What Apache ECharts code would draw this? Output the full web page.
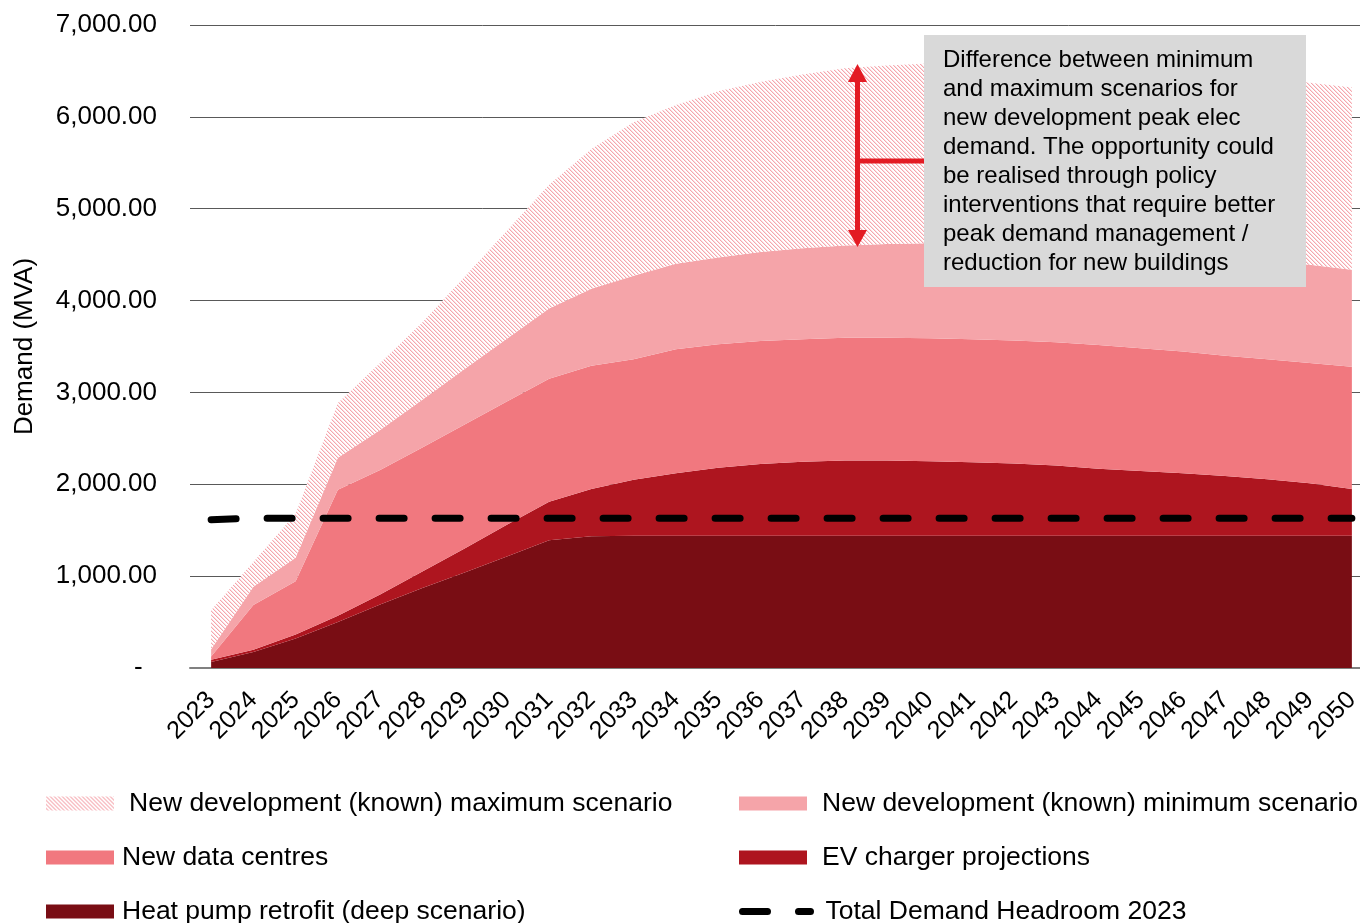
<!DOCTYPE html>
<html>
<head>
<meta charset="utf-8">
<script src="https://cdn.jsdelivr.net/npm/echarts@6/dist/echarts.min.js"></script>
<style>
  html, body { margin: 0; padding: 0; background: #fff; }
  #chart { width: 1360px; height: 923px; }
</style>
</head>
<body>
<div id="chart"></div>
<script>
var years = ["2023", "2024", "2025", "2026", "2027", "2028", "2029", "2030", "2031", "2032",
  "2033", "2034", "2035", "2036", "2037", "2038", "2039", "2040", "2041", "2042",
  "2043", "2044", "2045", "2046", "2047", "2048", "2049", "2050"];

// MVA per layer (stacked)
var heatPump = [65, 175, 320, 500, 690, 870, 1040, 1215, 1390, 1435,
  1440, 1440, 1440, 1440, 1440, 1440, 1440, 1440, 1440, 1440,
  1440, 1440, 1440, 1440, 1440, 1440, 1440, 1440];
var evCharger = [25, 25, 45, 70, 110, 180, 260, 345, 420, 515,
  610, 680, 740, 780, 805, 820, 820, 810, 800, 785,
  765, 730, 705, 680, 650, 615, 570, 510];
var dataCentres = [35, 485, 580, 1370, 1355, 1350, 1350, 1340, 1340, 1340,
  1310, 1350, 1345, 1340, 1335, 1335, 1335, 1340, 1340, 1340,
  1340, 1345, 1335, 1325, 1310, 1305, 1310, 1330];
var newDevMin = [80, 200, 255, 350, 435, 520, 605, 685, 765, 840,
  910, 930, 945, 970, 990, 1005, 1020, 1035, 1040, 1045,
  1050, 1060, 1070, 1075, 1085, 1080, 1070, 1055];
var newDevMaxExtra = [425, 270, 480, 595, 730, 840, 1005, 1175, 1345, 1520,
  1670, 1730, 1810, 1850, 1890, 1930, 1945, 1955, 1965, 1970,
  1975, 1980, 1980, 1980, 1980, 1980, 1980, 1985];
var headroom = [1615, 1630, 1630, 1630, 1630, 1630, 1630, 1630, 1630, 1630,
  1630, 1630, 1630, 1630, 1630, 1630, 1630, 1630, 1630, 1630,
  1630, 1630, 1630, 1630, 1630, 1630, 1630, 1630];

var names = {
  max: "New development (known) maximum scenario",
  min: "New development (known) minimum scenario",
  dc: "New data centres",
  ev: "EV charger projections",
  hp: "Heat pump retrofit (deep scenario)",
  head: "Total Demand Headroom 2023"
};

var note = "Difference between minimum\nand maximum scenarios for\nnew development peak elec\ndemand. The opportunity could\nbe realised through policy\ninterventions that require better\npeak demand management /\nreduction for new buildings";

var FONT = "'Liberation Sans', Arial, sans-serif";

// downward diagonal hatch, like the excel pattern fill
function makeHatch() {
  var c = document.createElement("canvas");
  c.width = 8;
  c.height = 8;
  var ctx = c.getContext("2d");
  ctx.fillStyle = "#ffffff";
  ctx.fillRect(0, 0, 8, 8);
  for (var y = 0; y < 8; y++) {
    for (var x = 0; x < 8; x++) {
      var d = ((x - y) % 4 + 4) % 4;
      if (d === 0) { ctx.fillStyle = "#F5A6AD"; ctx.fillRect(x, y, 1, 1); }
      if (d === 1) { ctx.fillStyle = "#FCDDE0"; ctx.fillRect(x, y, 1, 1); }
    }
  }
  return { image: c, repeat: "repeat" };
}
var hatch = makeHatch();

function area(name, data, color, fill) {
  return {
    name: name,
    type: "line",
    stack: "total",
    data: data,
    symbol: "none",
    color: color,
    lineStyle: { width: 0 },
    areaStyle: { color: fill || color, opacity: 1 },
    emphasis: { disabled: true }
  };
}

function legendItem(name, left, top, pad, extra) {
  var l = {
    data: [name],
    left: left,
    top: top,
    padding: 0,
    itemWidth: 68,
    itemHeight: 14,
    icon: "rect",
    selectedMode: false,
    textStyle: { fontSize: 26.5, fontFamily: FONT, color: "#000", padding: [0, 0, 0, pad] }
  };
  for (var k in extra) l[k] = extra[k];
  return l;
}

var chart = echarts.init(document.getElementById("chart"));

chart.setOption({
  animation: false,
  backgroundColor: "#fff",
  grid: { left: 190, right: -13, top: 25, bottom: 255, outerBoundsMode: "none", containLabel: false },
  xAxis: {
    type: "category",
    data: years,
    boundaryGap: true,
    axisTick: { show: false },
    axisLine: { lineStyle: { color: "#808080", width: 2 } },
    axisLabel: {
      interval: 0,
      rotate: 45,
      margin: 28,
      fontSize: 25,
      fontFamily: FONT,
      color: "#000"
    }
  },
  yAxis: {
    type: "value",
    min: 0,
    max: 7000,
    interval: 1000,
    name: "Demand (MVA)",
    nameLocation: "middle",
    nameRotate: 90,
    nameGap: 152,
    nameTextStyle: { fontSize: 26, fontFamily: FONT, color: "#000" },
    axisLine: { show: false },
    axisTick: { show: false },
    splitLine: { lineStyle: { color: "#595959", width: 1 } },
    axisLabel: {
      margin: 33,
      fontSize: 26,
      fontFamily: FONT,
      color: "#000",
      formatter: function (v) {
        if (v === 0) return "-  ";
        return v.toLocaleString("en-US", { minimumFractionDigits: 2, maximumFractionDigits: 2 });
      }
    }
  },
  legend: [
    legendItem(names.max, 46, 790, 10, { itemStyle: { color: hatch } }),
    legendItem(names.min, 739, 790, 10, {}),
    legendItem(names.dc, 46, 844, 3, {}),
    legendItem(names.ev, 739, 844, 10, {}),
    legendItem(names.hp, 46, 898, 3, {}),
    legendItem(names.head, 739, 898, 10, {
      icon: null,
      itemStyle: { opacity: 0 },
      lineStyle: { color: "#000", width: 7, type: [25, 31], cap: "round", opacity: 1 }
    })
  ],
  series: [
    area(names.hp, heatPump, "#790D14"),
    area(names.ev, evCharger, "#AE151F"),
    area(names.dc, dataCentres, "#F1787F"),
    area(names.min, newDevMin, "#F5A4A9"),
    area(names.max, newDevMaxExtra, "#F39BA3", hatch),
    {
      name: names.head,
      type: "line",
      data: headroom,
      symbol: "none",
      color: "#000",
      z: 5,
      lineStyle: { color: "#000", width: 7, type: [25, 31], cap: "round" },
      emphasis: { disabled: true }
    }
  ],
  graphic: [
    { type: "line", z: 100, shape: { x1: 857.5, y1: 78, x2: 857.5, y2: 234 }, style: { stroke: "#E31B23", lineWidth: 5 } },
    { type: "polygon", z: 100, shape: { points: [[848, 82], [867, 82], [857.5, 64]] }, style: { fill: "#E31B23" } },
    { type: "polygon", z: 100, shape: { points: [[848, 230], [867, 230], [857.5, 247]] }, style: { fill: "#E31B23" } },
    { type: "line", z: 100, shape: { x1: 857.5, y1: 161, x2: 926, y2: 161 }, style: { stroke: "#E31B23", lineWidth: 5 } },
    { type: "rect", z: 101, shape: { x: 924, y: 35, width: 382, height: 252 }, style: { fill: "#D9D9D9" } },
    {
      type: "text", z: 102, x: 943, y: 45.5,
      style: { text: note, font: "24px " + FONT, fill: "#000", lineHeight: 29, verticalAlign: "top" }
    }
  ]
});
</script>
</body>
</html>
